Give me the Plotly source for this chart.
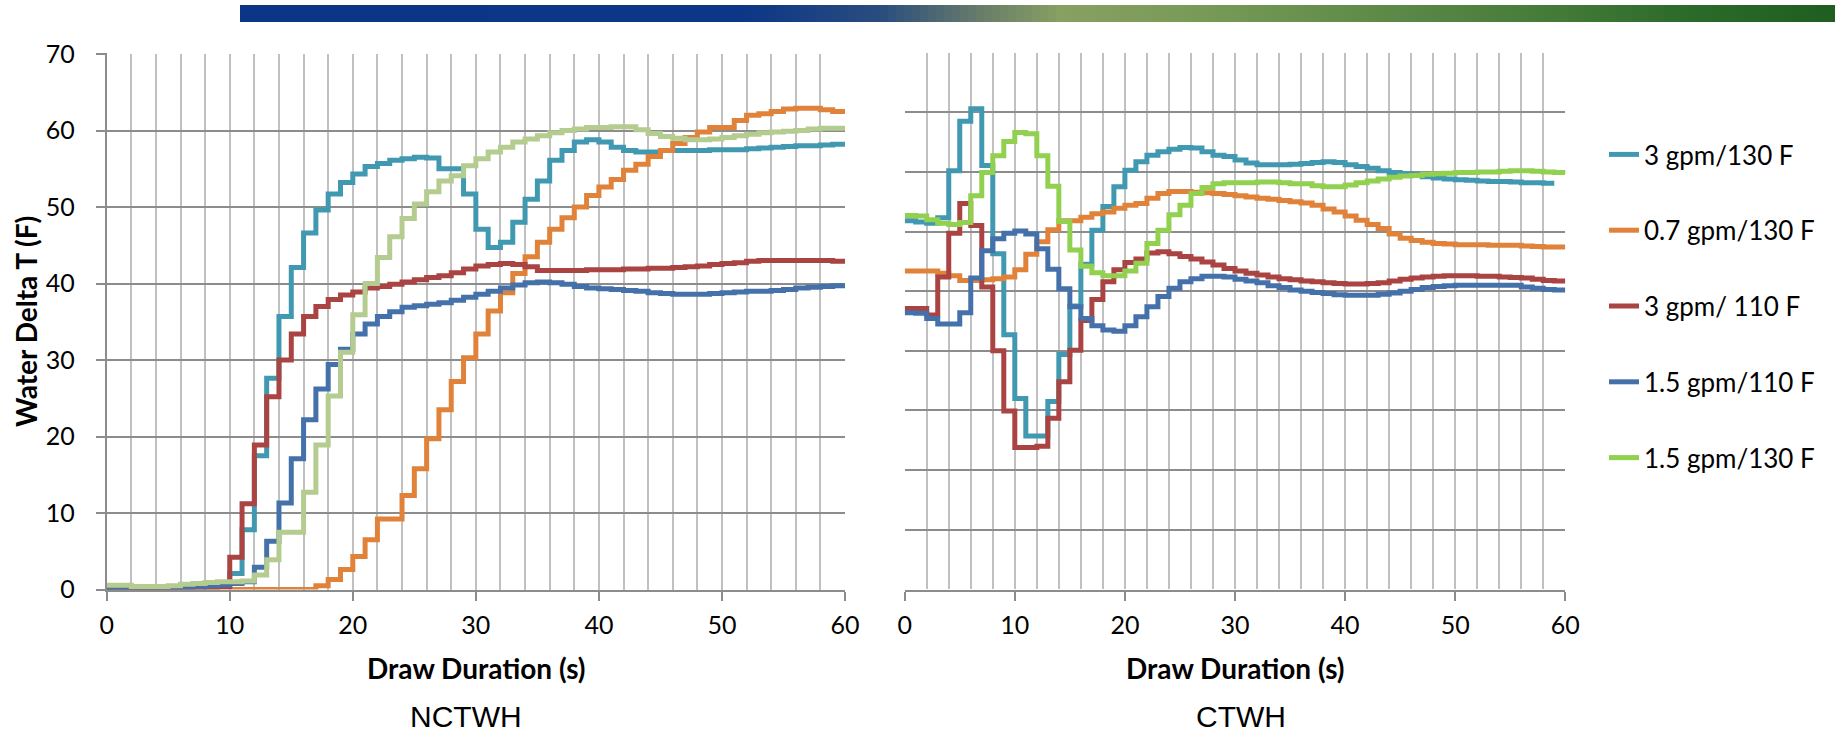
import plotly.graph_objects as go

# ---------------- data ----------------
T = list(range(61))            # draw duration (s), 1-s samples
T_TEAL_R = list(range(60))     # CTWH 3 gpm/130 F ends ~59 s

# NCTWH panel (Water Delta T, F)
ncthw_3gpm_130 = [0.2, 0.2, 0.2, 0.2, 0.3, 0.3, 0.4, 0.5, 0.6, 0.8,
                  2.1, 7.8, 17.5, 27.6, 35.7, 42.1, 46.6, 49.6, 51.7, 53.2,
                  54.3, 55.3, 55.7, 56.1, 56.3, 56.5, 56.4, 55.0, 55.0, 51.7,
                  47.1, 44.7, 45.4, 48.0, 51.0, 53.4, 56.1, 57.4, 58.5, 58.8,
                  58.5, 57.8, 57.4, 57.2, 57.2, 57.4, 57.4, 57.4, 57.4, 57.5,
                  57.5, 57.5, 57.6, 57.7, 57.8, 57.9, 58.0, 58.0, 58.1, 58.2, 58.2]
ncthw_07gpm_130 = [0, 0, 0, 0, 0, 0, 0, 0, 0, 0,
                   0, 0, 0, 0, 0, 0, 0, 0.5, 1.3, 2.6,
                   4.3, 6.5, 9.2, 9.2, 12.3, 15.8, 19.7, 23.5, 27.2, 30.3,
                   33.4, 36.4, 38.8, 41.3, 43.5, 45.4, 47.1, 48.6, 50.0, 51.5,
                   52.6, 53.6, 54.8, 55.6, 56.6, 57.4, 58.3, 59.1, 59.8, 60.4,
                   60.4, 61.3, 62.0, 62.2, 62.5, 62.8, 62.9, 62.9, 62.7, 62.5, 62.2]
ncthw_3gpm_110 = [0.1, 0.1, 0.1, 0.1, 0.1, 0.1, 0.2, 0.2, 0.3, 0.4,
                  4.2, 11.2, 18.9, 25.2, 30.0, 33.4, 35.7, 37.0, 37.9, 38.5,
                  38.9, 39.4, 39.6, 39.9, 40.2, 40.5, 40.8, 41.0, 41.4, 41.9,
                  42.3, 42.5, 42.6, 42.5, 42.2, 41.7, 41.7, 41.7, 41.7, 41.8,
                  41.8, 41.8, 41.9, 41.9, 42.0, 42.0, 42.1, 42.2, 42.3, 42.5,
                  42.6, 42.7, 42.9, 43.0, 43.0, 43.0, 43.0, 43.0, 43.0, 42.9, 42.9]
ncthw_15gpm_110 = [0.1, 0.1, 0.1, 0.1, 0.1, 0.2, 0.3, 0.4, 0.5, 0.6,
                   0.8, 1.0, 2.9, 6.3, 11.3, 17.1, 22.2, 26.2, 29.4, 31.4,
                   33.4, 34.7, 35.7, 36.3, 36.9, 37.1, 37.3, 37.5, 37.8, 38.2,
                   38.6, 39.0, 39.4, 39.8, 40.1, 40.2, 40.1, 39.9, 39.6, 39.4,
                   39.3, 39.2, 39.1, 39.0, 38.8, 38.7, 38.6, 38.6, 38.6, 38.7,
                   38.8, 38.9, 39.0, 39.0, 39.1, 39.2, 39.4, 39.5, 39.6, 39.7, 39.8]
ncthw_15gpm_130 = [0.55, 0.55, 0.4, 0.4, 0.4, 0.5, 0.7, 0.8, 0.9, 1.0,
                   1.0, 1.1, 1.9, 3.9, 7.5, 7.5, 12.7, 18.9, 25.3, 31.0,
                   35.9, 40.0, 43.4, 46.1, 48.5, 50.4, 52.0, 53.4, 54.1, 55.4,
                   56.3, 57.2, 57.8, 58.5, 58.9, 59.3, 59.7, 60.0, 60.2, 60.4,
                   60.4, 60.5, 60.5, 60.1, 59.6, 59.2, 59.0, 58.8, 58.8, 58.9,
                   59.1, 59.3, 59.5, 59.7, 59.8, 59.9, 60.0, 60.2, 60.3, 60.3, 60.2]

# CTWH panel (unlabelled axis, 9 grid divisions)
ctwh_3gpm_130 = [61.8, 61.6, 61.4, 62.3, 70.2, 78.5, 80.6, 71.1, 56.3, 42.7,
                 32.0, 25.7, 25.7, 31.5, 39.4, 47.5, 54.5, 60.2, 64.2, 67.5,
                 70.3, 71.7, 72.8, 73.4, 73.8, 74.1, 74.0, 73.4, 72.8, 72.6,
                 72.0, 71.5, 71.2, 71.2, 71.2, 71.3, 71.4, 71.6, 71.7, 71.6,
                 71.2, 70.9, 70.6, 70.2, 69.9, 69.7, 69.5, 69.2, 69.0, 68.8,
                 68.7, 68.6, 68.5, 68.4, 68.4, 68.3, 68.2, 68.2, 68.1, 68.1]
ctwh_07gpm_130 = [53.4, 53.4, 53.4, 53.0, 52.6, 51.8, 51.8, 51.9, 52.1, 52.4,
                  53.6, 56.2, 58.3, 60.3, 61.8, 61.8, 62.4, 63.0, 63.3, 63.9,
                  64.4, 64.7, 65.6, 66.4, 66.7, 66.7, 66.6, 66.5, 66.4, 66.2,
                  66.0, 65.8, 65.6, 65.4, 65.2, 65.0, 64.8, 64.4, 63.8, 63.3,
                  62.6, 61.9, 61.2, 60.5, 59.6, 58.9, 58.5, 58.2, 58.0, 57.9,
                  57.8, 57.8, 57.8, 57.7, 57.7, 57.7, 57.6, 57.5, 57.4, 57.4, 57.4]
ctwh_3gpm_110 = [47.1, 47.1, 46.0, 52.4, 59.7, 64.7, 61.0, 50.7, 40.0, 29.9,
                 23.8, 23.8, 24.0, 28.7, 34.8, 40.1, 45.1, 48.6, 51.6, 53.6,
                 54.8, 55.4, 56.4, 56.6, 56.3, 55.8, 55.4, 54.9, 54.4, 53.8,
                 53.4, 53.0, 52.7, 52.4, 52.1, 51.9, 51.7, 51.6, 51.4, 51.3,
                 51.2, 51.2, 51.3, 51.4, 51.7, 52.0, 52.2, 52.4, 52.5, 52.6,
                 52.6, 52.6, 52.5, 52.5, 52.4, 52.3, 52.2, 52.0, 51.8, 51.7, 51.7]
ctwh_15gpm_110 = [46.4, 46.3, 45.4, 44.5, 44.5, 46.4, 52.2, 56.8, 58.8, 59.7,
                  60.1, 59.6, 57.1, 53.7, 50.4, 47.4, 45.4, 44.2, 43.5, 43.3,
                  44.2, 45.7, 47.4, 49.1, 50.5, 51.6, 52.1, 52.5, 52.5, 52.4,
                  52.0, 51.7, 51.4, 50.9, 50.6, 50.2, 50.0, 49.8, 49.6, 49.4,
                  49.3, 49.3, 49.3, 49.5, 49.7, 50.0, 50.3, 50.6, 50.8, 50.9,
                  51.0, 51.0, 51.0, 51.0, 51.0, 51.0, 50.7, 50.5, 50.3, 50.2, 50.2]
ctwh_15gpm_130 = [62.7, 62.6, 62.0, 61.4, 61.2, 61.5, 66.0, 69.9, 72.7, 75.1,
                  76.6, 76.4, 72.7, 67.6, 61.7, 56.9, 54.2, 53.1, 52.6, 52.6,
                  53.4, 54.7, 58.0, 60.2, 62.8, 64.4, 66.4, 67.4, 68.0, 68.2,
                  68.2, 68.2, 68.3, 68.3, 68.2, 68.0, 68.0, 67.7, 67.5, 67.5,
                  67.8, 68.2, 68.5, 68.8, 69.1, 69.3, 69.4, 69.6, 69.7, 69.8,
                  69.9, 69.9, 70.0, 70.0, 70.1, 70.2, 70.2, 70.1, 70.0, 69.9, 69.8]

SERIES_NAMES = ["3 gpm/130 F", "0.7 gpm/130 F", "3 gpm/ 110 F", "1.5 gpm/110 F", "1.5 gpm/130 F"]
X_TICKS = [0, 10, 20, 30, 40, 50, 60]
Y_TICKS = [0, 10, 20, 30, 40, 50, 60, 70]

# ---------------- style ----------------
C_TEAL = "#4099B0"
C_ORANGE = "#E0823A"
C_RED = "#A94442"
C_BLUE = "#4571AB"
C_PALEGREEN = "#B4CC8F"
C_GREEN = "#92D050"
LW = 5
W, H = 1835, 737
FONT = "Lato"

fig = go.Figure()

left = [(ncthw_3gpm_130, C_TEAL), (ncthw_07gpm_130, C_ORANGE), (ncthw_3gpm_110, C_RED),
        (ncthw_15gpm_110, C_BLUE), (ncthw_15gpm_130, C_PALEGREEN)]
for (vals, col), name in zip(left, SERIES_NAMES):
    fig.add_trace(go.Scatter(x=T, y=vals, mode="lines", name=name, showlegend=False,
                             line=dict(color=col, width=LW, shape="hv"),
                             xaxis="x", yaxis="y", hoverinfo="skip"))

right = [(T_TEAL_R, ctwh_3gpm_130, C_TEAL), (T, ctwh_07gpm_130, C_ORANGE), (T, ctwh_3gpm_110, C_RED),
         (T, ctwh_15gpm_110, C_BLUE), (T, ctwh_15gpm_130, C_GREEN)]
for i, ((tx, vals, col), name) in enumerate(zip(right, SERIES_NAMES)):
    fig.add_trace(go.Scatter(x=tx, y=vals, mode="lines", name=name, showlegend=True,
                             legendgroup="g%d" % i,
                             line=dict(color=col, width=LW, shape="hv"),
                             xaxis="x2", yaxis="y2", hoverinfo="skip"))

GRID_V = "#C0C0C0"
GRID_H = "#8C8C8C"
AX = "#8C8C8C"

def xaxis_cfg(domain):
    return dict(domain=domain, range=[0, 60], tickmode="array", tickvals=X_TICKS,
                ticktext=[str(v) for v in X_TICKS],
                showgrid=True, gridcolor=GRID_V, gridwidth=2,
                minor=dict(dtick=2, showgrid=True, gridcolor=GRID_V, gridwidth=2, ticks=""),
                showline=True, linecolor=AX, linewidth=2,
                ticks="outside", ticklen=9, tickwidth=2, tickcolor=AX,
                tickfont=dict(family=FONT, size=25, color="#000000"),
                ticklabelstandoff=3, zeroline=False, fixedrange=True, automargin=False)

fig.update_layout(
    width=W, height=H, margin=dict(l=0, r=0, t=0, b=0, autoexpand=False),
    paper_bgcolor="white", plot_bgcolor="white",
    xaxis=xaxis_cfg([106.7 / W, 845.0 / W]),
    xaxis2=xaxis_cfg([904.7 / W, 1565.3 / W]),
    yaxis=dict(domain=[1 - 589.5 / H, 1 - 54.0 / H], range=[0, 70], tickmode="array",
               tickvals=Y_TICKS, ticktext=[str(v) for v in Y_TICKS],
               showgrid=True, gridcolor=GRID_H, gridwidth=2,
               showline=True, linecolor=AX, linewidth=2,
               ticks="outside", ticklen=9, tickwidth=2, tickcolor=AX,
               tickfont=dict(family=FONT, size=25, color="#000000"),
               ticklabelstandoff=16, zeroline=False, fixedrange=True, automargin=False),
    yaxis2=dict(domain=[1 - 589.3 / H, 1 - 52.7 / H], range=[0, 90], dtick=10,
                showgrid=True, gridcolor=GRID_H, gridwidth=2,
                showline=True, linecolor=AX, linewidth=2,
                showticklabels=False, ticks="", zeroline=False, fixedrange=True, automargin=False),
    legend=dict(x=1604 / W, y=1 - 131 / H, xanchor="left", yanchor="top",
                font=dict(family=FONT, size=26, color="#000000"),
                traceorder="grouped", tracegroupgap=39, bgcolor="rgba(0,0,0,0)",
                itemwidth=30),
    showlegend=True,
)

# text labels
ann = [
    dict(text="<b>Water Delta T (F)</b>", x=26 / W, y=1 - 322 / H, textangle=-90,
         font=dict(family=FONT, size=28, color="#000000")),
    dict(text="<b>Draw Duration (s)</b>", x=476 / W, y=1 - 668 / H,
         font=dict(family=FONT, size=28, color="#000000")),
    dict(text="<b>Draw Duration (s)</b>", x=1235 / W, y=1 - 668 / H,
         font=dict(family=FONT, size=28, color="#000000")),
    dict(text="NCTWH", x=466 / W, y=1 - 716 / H,
         font=dict(family="Liberation Sans", size=30, color="#000000")),
    dict(text="CTWH", x=1241 / W, y=1 - 716 / H,
         font=dict(family="Liberation Sans", size=30, color="#000000")),
]
for a in ann:
    a.update(xref="paper", yref="paper", showarrow=False, xanchor="center", yanchor="middle")
fig.update_layout(annotations=ann)

# decorative header gradient bar
stops = [(240, (11, 53, 135)), (740, (12, 54, 135)), (880, (42, 76, 126)), (980, (104, 124, 106)),
         (1061, (136, 160, 98)), (1200, (120, 154, 87)), (1380, (94, 138, 72)),
         (1560, (67, 122, 56)), (1680, (45, 107, 43)), (1835, (31, 94, 32))]

def grad_color(px):
    for (x0, c0), (x1, c1) in zip(stops[:-1], stops[1:]):
        if x0 <= px <= x1:
            f = (px - x0) / (x1 - x0)
            return "rgb(%d,%d,%d)" % tuple(round(a + (b - a) * f) for a, b in zip(c0, c1))
    return "rgb(%d,%d,%d)" % stops[-1][1]

shapes = []
step = 8
px = 240
while px < 1835:
    x1 = min(px + step + 1, 1835)
    shapes.append(dict(type="rect", xref="paper", yref="paper", x0=px / W, x1=x1 / W,
                       y0=1 - 22 / H, y1=1 - 5 / H, fillcolor=grad_color(px + step / 2),
                       line=dict(width=0), layer="above"))
    px += step
fig.update_layout(shapes=shapes)

fig.write_html("out.html")
